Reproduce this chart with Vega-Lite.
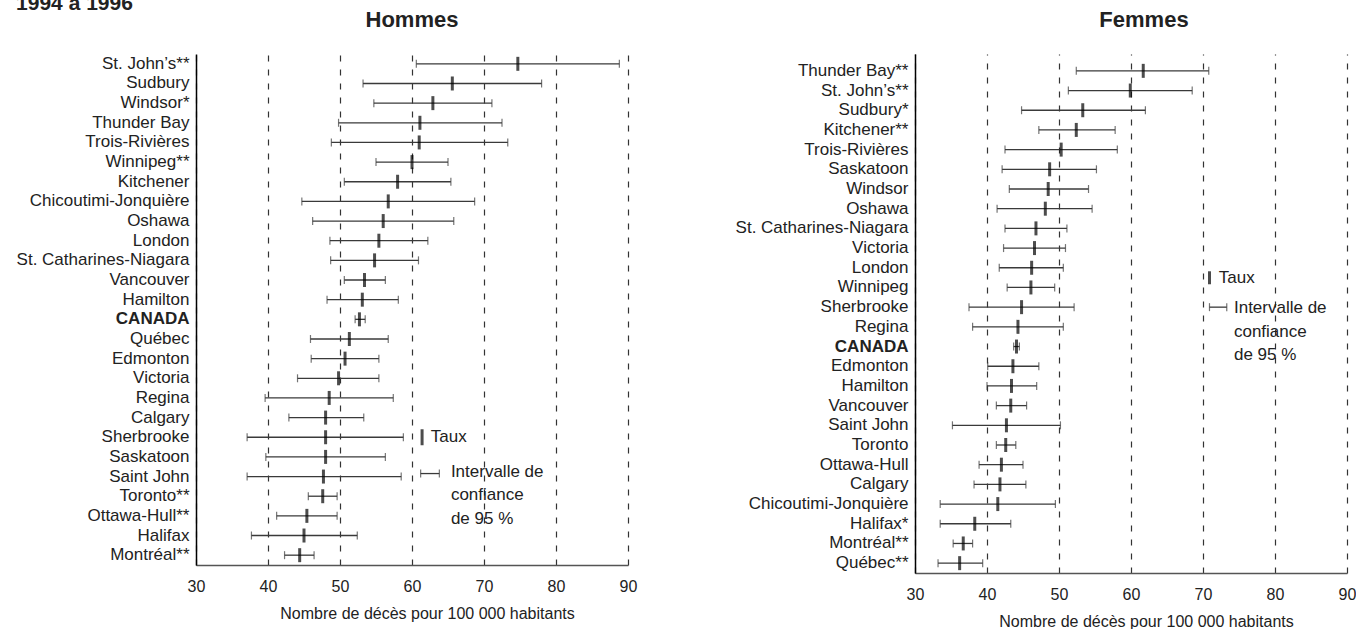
{
  "$schema": "https://vega.github.io/schema/vega-lite/v6.json",
  "background": "white",
  "padding": {"left": 16, "top": -7, "right": 0, "bottom": 0},
  "title": {"text": "1994 à 1996", "anchor": "start", "fontSize": 21, "fontWeight": "bold", "color": "#222", "offset": -5},
  "config": {
    "font": "Liberation Sans",
    "view": {"stroke": null},
    "title": {"color": "#222"},
    "axis": {"labelColor": "#222", "titleColor": "#222"}
  },
  "spacing": 98,
  "datasets": {
    "hommes": [
      {"ville": "St. John’s**", "taux": 74.7, "bas": 60.6, "haut": 88.8},
      {"ville": "Sudbury", "taux": 65.6, "bas": 53.2, "haut": 78.0},
      {"ville": "Windsor*", "taux": 62.9, "bas": 54.7, "haut": 71.1},
      {"ville": "Thunder Bay", "taux": 61.1, "bas": 49.8, "haut": 72.5},
      {"ville": "Trois-Rivières", "taux": 61.0, "bas": 48.8, "haut": 73.3},
      {"ville": "Winnipeg**", "taux": 60.0, "bas": 55.0, "haut": 65.0},
      {"ville": "Kitchener", "taux": 58.0, "bas": 50.6, "haut": 65.4},
      {"ville": "Chicoutimi-Jonquière", "taux": 56.7, "bas": 44.7, "haut": 68.7},
      {"ville": "Oshawa", "taux": 56.0, "bas": 46.2, "haut": 65.8},
      {"ville": "London", "taux": 55.4, "bas": 48.6, "haut": 62.2},
      {"ville": "St. Catharines-Niagara", "taux": 54.8, "bas": 48.7, "haut": 60.9},
      {"ville": "Vancouver", "taux": 53.4, "bas": 50.6, "haut": 56.3},
      {"ville": "Hamilton", "taux": 53.1, "bas": 48.2, "haut": 58.1},
      {"ville": "CANADA", "taux": 52.7, "bas": 52.1, "haut": 53.5},
      {"ville": "Québec", "taux": 51.3, "bas": 45.9, "haut": 56.7},
      {"ville": "Edmonton", "taux": 50.7, "bas": 46.0, "haut": 55.4},
      {"ville": "Victoria", "taux": 49.8, "bas": 44.1, "haut": 55.4},
      {"ville": "Regina", "taux": 48.5, "bas": 39.6, "haut": 57.4},
      {"ville": "Calgary", "taux": 48.0, "bas": 42.9, "haut": 53.3},
      {"ville": "Sherbrooke", "taux": 48.0, "bas": 37.1, "haut": 58.8},
      {"ville": "Saskatoon", "taux": 48.0, "bas": 39.7, "haut": 56.3},
      {"ville": "Saint John", "taux": 47.7, "bas": 37.1, "haut": 58.5},
      {"ville": "Toronto**", "taux": 47.6, "bas": 45.6, "haut": 49.6},
      {"ville": "Ottawa-Hull**", "taux": 45.4, "bas": 41.2, "haut": 49.6},
      {"ville": "Halifax", "taux": 45.0, "bas": 37.7, "haut": 52.4},
      {"ville": "Montréal**", "taux": 44.4, "bas": 42.3, "haut": 46.4}
    ],
    "femmes": [
      {"ville": "Thunder Bay**", "taux": 61.7, "bas": 52.4, "haut": 70.8},
      {"ville": "St. John’s**", "taux": 59.9, "bas": 51.3, "haut": 68.5},
      {"ville": "Sudbury*", "taux": 53.3, "bas": 44.8, "haut": 62.0},
      {"ville": "Kitchener**", "taux": 52.4, "bas": 47.2, "haut": 57.8},
      {"ville": "Trois-Rivières", "taux": 50.3, "bas": 42.5, "haut": 58.1},
      {"ville": "Saskatoon", "taux": 48.7, "bas": 42.1, "haut": 55.2},
      {"ville": "Windsor", "taux": 48.5, "bas": 43.1, "haut": 54.1},
      {"ville": "Oshawa", "taux": 48.1, "bas": 41.4, "haut": 54.6},
      {"ville": "St. Catharines-Niagara", "taux": 46.8, "bas": 42.5, "haut": 51.1},
      {"ville": "Victoria", "taux": 46.6, "bas": 42.3, "haut": 50.9},
      {"ville": "London", "taux": 46.2, "bas": 41.7, "haut": 50.6},
      {"ville": "Winnipeg", "taux": 46.1, "bas": 42.8, "haut": 49.4},
      {"ville": "Sherbrooke", "taux": 44.8, "bas": 37.5, "haut": 52.1},
      {"ville": "Regina", "taux": 44.3, "bas": 38.0, "haut": 50.6},
      {"ville": "CANADA", "taux": 44.1, "bas": 43.7, "haut": 44.5},
      {"ville": "Edmonton", "taux": 43.6, "bas": 40.1, "haut": 47.2},
      {"ville": "Hamilton", "taux": 43.4, "bas": 40.0, "haut": 46.9},
      {"ville": "Vancouver", "taux": 43.3, "bas": 41.3, "haut": 45.5},
      {"ville": "Saint John", "taux": 42.7, "bas": 35.2, "haut": 50.2},
      {"ville": "Toronto", "taux": 42.6, "bas": 41.3, "haut": 44.0},
      {"ville": "Ottawa-Hull", "taux": 42.0, "bas": 38.9, "haut": 45.0},
      {"ville": "Calgary", "taux": 41.8, "bas": 38.2, "haut": 45.4},
      {"ville": "Chicoutimi-Jonquière", "taux": 41.5, "bas": 33.5, "haut": 49.5},
      {"ville": "Halifax*", "taux": 38.3, "bas": 33.5, "haut": 43.3},
      {"ville": "Montréal**", "taux": 36.7, "bas": 35.3, "haut": 38.0},
      {"ville": "Québec**", "taux": 36.2, "bas": 33.2, "haut": 39.4}
    ]
  },
  "hconcat": [
    {
      "width": 432,
      "height": 511,
      "title": {"text": "Hommes", "fontSize": 22, "fontWeight": "bold", "offset": 22, "anchor": "middle"},
      "encoding": {
        "y": {
          "field": "ville", "type": "nominal", "sort": null,
          "scale": {"paddingInner": 0, "paddingOuter": 0, "domain": ["St. John’s**", "Sudbury", "Windsor*", "Thunder Bay", "Trois-Rivières", "Winnipeg**", "Kitchener", "Chicoutimi-Jonquière", "Oshawa", "London", "St. Catharines-Niagara", "Vancouver", "Hamilton", "CANADA", "Québec", "Edmonton", "Victoria", "Regina", "Calgary", "Sherbrooke", "Saskatoon", "Saint John", "Toronto**", "Ottawa-Hull**", "Halifax", "Montréal**"]},
          "axis": {"title": null, "ticks": false, "domainColor": "#000", "domainWidth": 1.5, "labelFontSize": 17, "labelPadding": 7, "labelLimit": 300, "labelFontWeight": {"condition": {"test": "datum.value === 'CANADA'", "value": "bold"}, "value": "normal"}}
        }
      },
      "layer": [
        {
          "data": {"name": "hommes"},
          "mark": {"type": "rule", "color": "#3a3a3a", "strokeWidth": 1.3},
          "encoding": {
            "x": {"field": "bas", "type": "quantitative",
              "scale": {"domain": [30, 90], "nice": false, "zero": false},
              "axis": {"title": "Nombre de décès pour 100 000 habitants", "values": [30, 40, 50, 60, 70, 80, 90], "grid": true, "gridDash": [6, 8], "gridColor": "#333", "gridWidth": 1.2, "ticks": false, "tickSize": 0, "labelPadding": 13, "labelFontSize": 16, "labelFlush": false, "domainColor": "#555", "domainWidth": 1.5, "titleFontSize": 16, "titleFontWeight": "normal", "titlePadding": 11, "titleX": 231}},
            "x2": {"field": "haut"}
          }
        },
        {
          "data": {"name": "hommes"},
          "mark": {"type": "tick", "size": 8, "thickness": 1.2, "color": "#3a3a3a"},
          "encoding": {"x": {"field": "bas", "type": "quantitative"}}
        },
        {
          "data": {"name": "hommes"},
          "mark": {"type": "tick", "size": 8, "thickness": 1.2, "color": "#3a3a3a"},
          "encoding": {"x": {"field": "haut", "type": "quantitative"}}
        },
        {
          "data": {"name": "hommes"},
          "mark": {"type": "tick", "size": 14, "thickness": 3, "color": "#000"},
          "encoding": {"x": {"field": "taux", "type": "quantitative"}}
        },
        {
          "data": {"values": [{"ville": "Sherbrooke", "taux": 61.4}]},
          "mark": {"type": "tick", "size": 16, "thickness": 3, "color": "#000"},
          "encoding": {"x": {"field": "taux", "type": "quantitative"}}
        },
        {
          "data": {"values": [{"ville": "Sherbrooke", "pos": 62.6, "label": "Taux"}]},
          "mark": {"type": "text", "align": "left", "baseline": "middle", "fontSize": 17, "color": "#222"},
          "encoding": {"x": {"field": "pos", "type": "quantitative"}, "text": {"field": "label"}}
        },
        {
          "data": {"values": [{"ville": "Saint John", "bas": 61.2, "haut": 63.8}]},
          "mark": {"type": "rule", "color": "#3a3a3a", "strokeWidth": 1.3, "yOffset": -3},
          "encoding": {"x": {"field": "bas", "type": "quantitative"}, "x2": {"field": "haut"}}
        },
        {
          "data": {"values": [{"ville": "Saint John", "v": 61.2}, {"ville": "Saint John", "v": 63.8}]},
          "mark": {"type": "tick", "size": 8, "thickness": 1.2, "color": "#3a3a3a", "yOffset": -3},
          "encoding": {"x": {"field": "v", "type": "quantitative"}}
        },
        {
          "data": {"values": [{"ville": "Saint John", "pos": 65.4, "label": ["Intervalle de", "confiance", "de 95 %"]}]},
          "mark": {"type": "text", "align": "left", "baseline": "middle", "fontSize": 17, "lineHeight": 23.5, "color": "#222", "dy": -5},
          "encoding": {"x": {"field": "pos", "type": "quantitative"}, "text": {"field": "label"}}
        }
      ]
    },
    {
      "width": 432,
      "height": 519,
      "title": {"text": "Femmes", "fontSize": 22, "fontWeight": "bold", "offset": 22, "anchor": "middle", "dx": 13},
      "encoding": {
        "y": {
          "field": "ville", "type": "nominal", "sort": null,
          "scale": {"paddingInner": 0, "paddingOuter": 0.1777, "align": 1, "domain": ["Thunder Bay**", "St. John’s**", "Sudbury*", "Kitchener**", "Trois-Rivières", "Saskatoon", "Windsor", "Oshawa", "St. Catharines-Niagara", "Victoria", "London", "Winnipeg", "Sherbrooke", "Regina", "CANADA", "Edmonton", "Hamilton", "Vancouver", "Saint John", "Toronto", "Ottawa-Hull", "Calgary", "Chicoutimi-Jonquière", "Halifax*", "Montréal**", "Québec**"]},
          "axis": {"title": null, "ticks": false, "domainColor": "#000", "domainWidth": 1.5, "labelFontSize": 17, "labelPadding": 7, "labelLimit": 300, "labelFontWeight": {"condition": {"test": "datum.value === 'CANADA'", "value": "bold"}, "value": "normal"}}
        }
      },
      "layer": [
        {
          "data": {"name": "femmes"},
          "mark": {"type": "rule", "color": "#3a3a3a", "strokeWidth": 1.3},
          "encoding": {
            "x": {"field": "bas", "type": "quantitative",
              "scale": {"domain": [30, 90], "nice": false, "zero": false},
              "axis": {"title": "Nombre de décès pour 100 000 habitants", "values": [30, 40, 50, 60, 70, 80, 90], "grid": true, "gridDash": [6, 8], "gridColor": "#333", "gridWidth": 1.2, "ticks": false, "tickSize": 0, "labelPadding": 13, "labelFontSize": 16, "labelFlush": false, "domainColor": "#555", "domainWidth": 1.5, "titleFontSize": 16, "titleFontWeight": "normal", "titlePadding": 11, "titleX": 231}},
            "x2": {"field": "haut"}
          }
        },
        {
          "data": {"name": "femmes"},
          "mark": {"type": "tick", "size": 8, "thickness": 1.2, "color": "#3a3a3a"},
          "encoding": {"x": {"field": "bas", "type": "quantitative"}}
        },
        {
          "data": {"name": "femmes"},
          "mark": {"type": "tick", "size": 8, "thickness": 1.2, "color": "#3a3a3a"},
          "encoding": {"x": {"field": "haut", "type": "quantitative"}}
        },
        {
          "data": {"name": "femmes"},
          "mark": {"type": "tick", "size": 14, "thickness": 3, "color": "#000"},
          "encoding": {"x": {"field": "taux", "type": "quantitative"}}
        },
        {
          "data": {"values": [{"ville": "London", "taux": 70.9}]},
          "mark": {"type": "tick", "size": 13, "thickness": 3, "color": "#000", "yOffset": 10},
          "encoding": {"x": {"field": "taux", "type": "quantitative"}}
        },
        {
          "data": {"values": [{"ville": "London", "pos": 72.2, "label": "Taux"}]},
          "mark": {"type": "text", "align": "left", "baseline": "middle", "fontSize": 17, "color": "#222", "dy": 10},
          "encoding": {"x": {"field": "pos", "type": "quantitative"}, "text": {"field": "label"}}
        },
        {
          "data": {"values": [{"ville": "Sherbrooke", "bas": 70.9, "haut": 73.3}]},
          "mark": {"type": "rule", "color": "#3a3a3a", "strokeWidth": 1.3},
          "encoding": {"x": {"field": "bas", "type": "quantitative"}, "x2": {"field": "haut"}}
        },
        {
          "data": {"values": [{"ville": "Sherbrooke", "v": 70.9}, {"ville": "Sherbrooke", "v": 73.3}]},
          "mark": {"type": "tick", "size": 8, "thickness": 1.2, "color": "#3a3a3a"},
          "encoding": {"x": {"field": "v", "type": "quantitative"}}
        },
        {
          "data": {"values": [{"ville": "Sherbrooke", "pos": 74.3, "label": ["Intervalle de", "confiance", "de 95 %"]}]},
          "mark": {"type": "text", "align": "left", "baseline": "middle", "fontSize": 17, "lineHeight": 23.5, "color": "#222", "dy": 1},
          "encoding": {"x": {"field": "pos", "type": "quantitative"}, "text": {"field": "label"}}
        }
      ]
    }
  ]
}
